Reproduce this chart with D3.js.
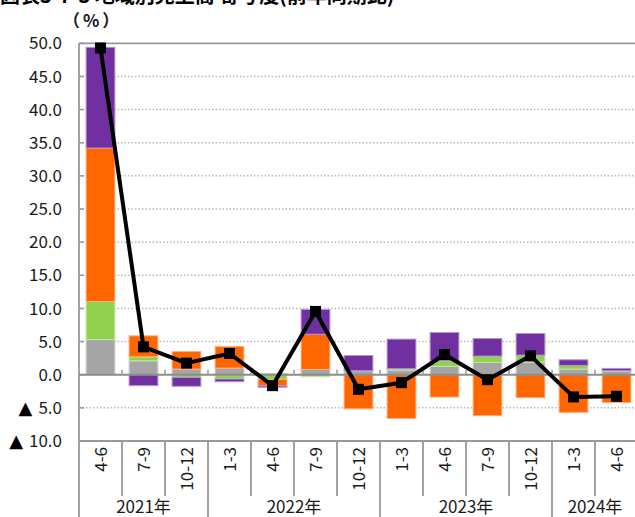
<!DOCTYPE html>
<html><head><meta charset="utf-8">
<script src="https://cdn.jsdelivr.net/npm/d3@7"></script>
<style>
html,body{margin:0;padding:0;background:#fff;overflow:hidden}
svg{display:block}
text{font-family:"Noto Sans CJK JP","Noto Sans",sans-serif;fill:#1a1a1a}
</style></head>
<body>
<svg id="c" width="635" height="517"></svg>
<script>
const categories = ["4-6","7-9","10-12","1-3","4-6","7-9","10-12","1-3","4-6","7-9","10-12","1-3","4-6"];
const years = ["2021年","2022年","2023年","2024年"];
const yearCounts = [3,4,4,2];
const gray   = [5.3, 2.1, 0.85, 1.0, 0.2, 0.8, 0.6, 0.7, 1.25, 1.85, 1.9, 0.85, 0.55];
const green  = [5.75, 0.6, -0.4, -0.65, -0.7, -0.3, 0, 0.2, 0.85, 0.95, 1.05, 0.55, 0.05];
const orange = [23.15, 3.17, 2.65, 3.25, -1.0, 5.3, -5.15, -6.6, -3.37, -6.18, -3.47, -5.68, -4.2];
const purple = [15.2, -1.65, -1.35, -0.4, -0.2, 3.75, 2.3, 4.47, 4.27, 2.66, 3.27, 0.85, 0.35];
const total  = [49.3, 4.2, 1.75, 3.2, -1.65, 9.55, -2.2, -1.2, 3.05, -0.75, 2.85, -3.35, -3.25];
const yTicks = [50,45,40,35,30,25,20,15,10,5,0,-5,-10];
const title = "図表3-7-3 地域別売上高 寄与度(前年同期比)";
const unitLabel = "（%）";

const keys = ["gray","green","orange","purple"];
const colors = {gray:"#A5A5A5", green:"#92D050", orange:"#FF6600", purple:"#7030A0"};
const strokes = {gray:"#d0d0d0", green:"#c4e8a0", orange:"#ffb080", purple:"#b894d4"};

const rows = categories.map((c,i)=>({i, gray:gray[i], green:green[i], orange:orange[i], purple:purple[i]}));

const svg = d3.select("#c");
const L = 79, R = 638, T = 43.3, B = 441, BOT = 517;

const x = d3.scaleBand().domain(d3.range(categories.length)).range([L,R]).paddingInner(0.33).paddingOuter(0.165);
const slot = d3.scaleBand().domain(d3.range(categories.length)).range([L,R]).padding(0);
const y = d3.scaleLinear().domain([-10,50]).range([B,T]);

// title (cut off at top, as in the reference)
svg.append("text").attr("x",0).attr("y",3).attr("font-size",20).attr("font-weight","bold")
  .style("fill","#000").text(title);
svg.append("text").attr("x",63).attr("y",27).attr("font-size",17).attr("font-weight","bold")
  .attr("letter-spacing",3).text(unitLabel);

// gridlines
svg.append("g").selectAll("line").data(yTicks.filter(v=>v!==0 && v!==50 && v!==-10)).join("line")
  .attr("x1",L).attr("x2",635).attr("y1",d=>y(d)).attr("y2",d=>y(d))
  .attr("stroke","#b8b8b8").attr("stroke-width",1.5).attr("stroke-dasharray","1.5,2");

// frame
const frame = svg.append("g").attr("stroke","#999").attr("stroke-width",1.8);
frame.append("line").attr("x1",L).attr("x2",640).attr("y1",y(50)).attr("y2",y(50));
frame.append("line").attr("x1",L).attr("x2",640).attr("y1",y(-10)).attr("y2",y(-10));
frame.append("line").attr("x1",L).attr("x2",L).attr("y1",y(50)).attr("y2",BOT);

// y tick marks (inside)
svg.append("g").selectAll("line").data(yTicks).join("line")
  .attr("x1",L).attr("x2",L+5).attr("y1",d=>y(d)).attr("y2",d=>y(d))
  .attr("stroke","#999").attr("stroke-width",1.5);

// y labels
const yg = svg.append("g");
yTicks.forEach(d=>{
  const num = yg.append("text").attr("x",62).attr("y",y(d)).attr("dy","0.36em")
    .attr("text-anchor","end").attr("font-size",17).text(d3.format(".1f")(Math.abs(d)));
  if (d < 0) {
    const w = num.node().getComputedTextLength();
    yg.append("text").attr("x",62 - w - 6).attr("y",y(d)).attr("dy","0.36em")
      .attr("text-anchor","end").style("font-family","DejaVu Sans").attr("font-size",18)
      .style("fill","#000").text("▲");
  }
});

// stacked bars
const series = d3.stack().keys(keys).offset(d3.stackOffsetDiverging)(rows);
svg.append("g").selectAll("g").data(series).join("g")
  .attr("fill",s=>colors[s.key]).attr("stroke",s=>strokes[s.key]).attr("stroke-width",1)
  .selectAll("rect").data(s=>s).join("rect")
  .attr("x",d=>x(d.data.i)).attr("width",x.bandwidth())
  .attr("y",d=>y(Math.max(d[0],d[1])))
  .attr("height",d=>Math.abs(y(d[0])-y(d[1])));

// zero line
svg.append("line").attr("x1",L).attr("x2",640).attr("y1",y(0)).attr("y2",y(0))
  .attr("stroke","#8c8c8c").attr("stroke-width",2);
// small ticks on zero line at category boundaries
svg.append("g").selectAll("line").data(d3.range(1,categories.length)).join("line")
  .attr("x1",i=>slot(i)).attr("x2",i=>slot(i)).attr("y1",y(0)).attr("y2",y(0)-5)
  .attr("stroke","#999").attr("stroke-width",1.5);

// line series
const line = d3.line().x((d,i)=>x(i)+x.bandwidth()/2).y(d=>y(d));
svg.append("path").datum(total).attr("d",line).attr("fill","none")
  .attr("stroke","#000").attr("stroke-width",4).attr("stroke-linejoin","round");
svg.append("g").selectAll("rect").data(total).join("rect")
  .attr("x",(d,i)=>x(i)+x.bandwidth()/2-5.5).attr("y",d=>y(d)-5.5)
  .attr("width",11).attr("height",11).attr("fill","#000");

// category axis separators (inner boundaries only; the last one lies past the right edge)
const yearStarts = [0];
yearCounts.forEach((n,k)=>yearStarts.push(yearStarts[k]+n));
svg.append("g").selectAll("line").data(d3.range(1,categories.length)).join("line")
  .attr("x1",i=>slot(i)).attr("x2",i=>slot(i)).attr("y1",B)
  .attr("y2",i=>yearStarts.includes(i)?BOT:496)
  .attr("stroke","#999").attr("stroke-width",1.8);

// category labels (rotated)
svg.append("g").selectAll("text").data(categories).join("text")
  .attr("transform",(d,i)=>`translate(${slot(i)+slot.bandwidth()/2},${B+6}) rotate(-90)`)
  .attr("text-anchor","end").attr("dy","0.36em").attr("font-size",17).text(d=>d);

// year labels
svg.append("g").selectAll("text").data(years).join("text")
  .attr("x",(d,k)=>(slot(yearStarts[k]) + (yearStarts[k+1]<categories.length?slot(yearStarts[k+1]):R))/2)
  .attr("y",513).attr("text-anchor","middle").attr("font-size",17).text(d=>d);
</script>
</body></html>
